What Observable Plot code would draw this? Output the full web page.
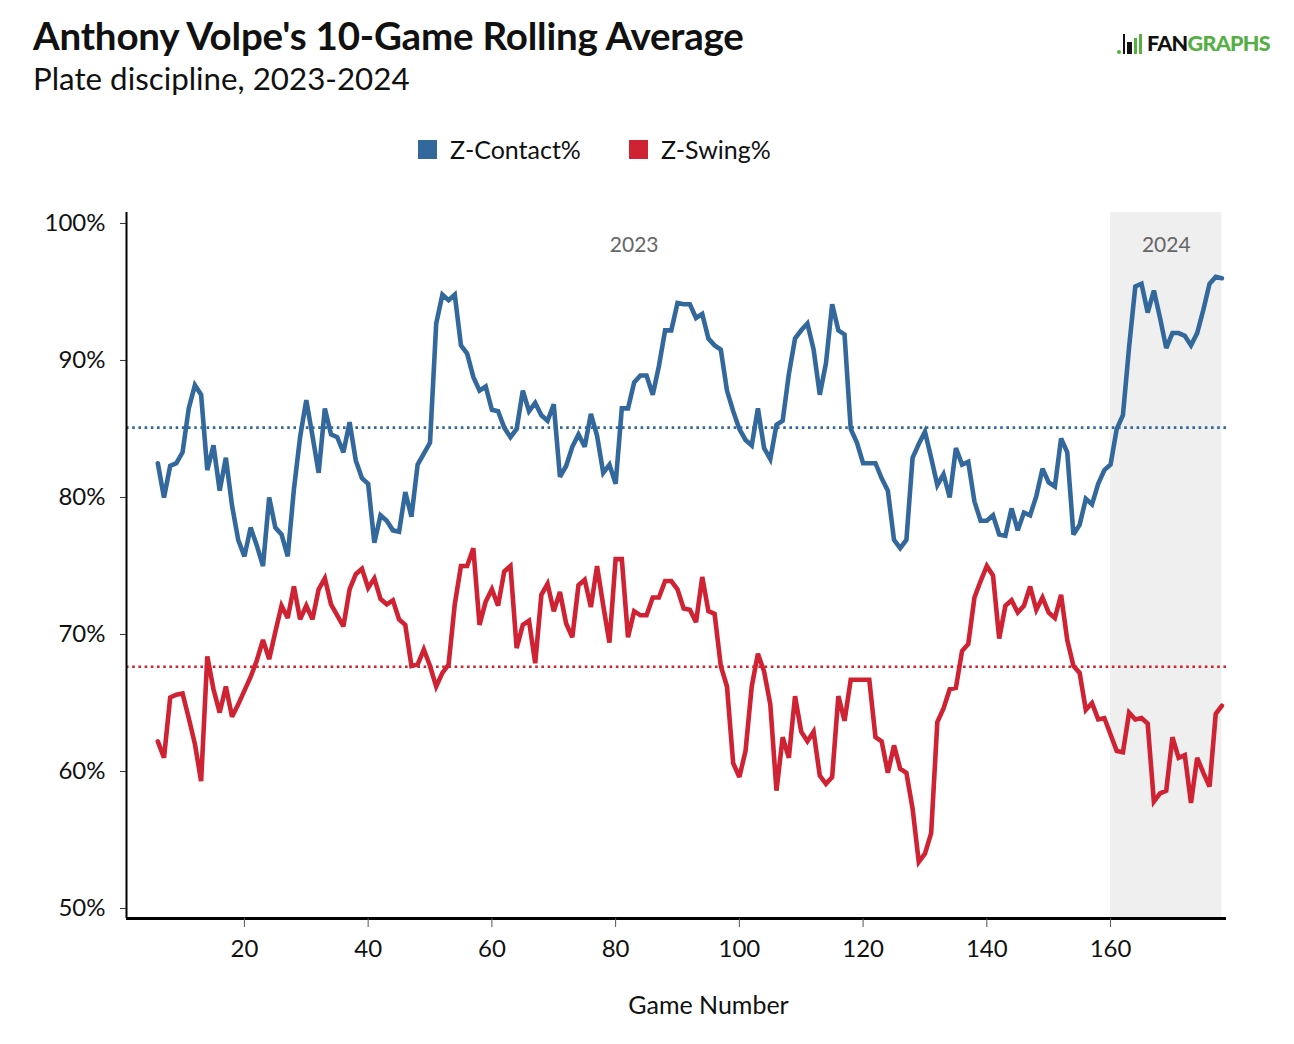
<!DOCTYPE html>
<html>
<head>
<meta charset="utf-8">
<script src="https://cdn.jsdelivr.net/npm/d3@7"></script>
<script src="https://cdn.jsdelivr.net/npm/@observablehq/plot@0.6"></script>
<style>
  html, body { margin: 0; padding: 0; background: #fff; }
  body { width: 1294px; height: 1044px; position: relative; font-family: Lato, "Open Sans", sans-serif; color: #111; overflow: hidden; }
  #title { position: absolute; left: 33px; top: 12px; font-size: 38.5px; font-weight: 700; letter-spacing: -0.2px; white-space: nowrap; }
  #subtitle { position: absolute; left: 33px; top: 59px; font-size: 31.3px; font-weight: 400; white-space: nowrap; }
  #legend { position: absolute; left: 418px; top: 134px; font-size: 25px; display: flex; align-items: center; white-space: nowrap; color: #111; }
  .sw { width: 19px; height: 19px; display: inline-block; margin-right: 13px; }
  .item { display: flex; align-items: center; margin-right: 48px; }
  #logo { position: absolute; left: 1117px; top: 32px; height: 22px; display: flex; align-items: flex-end; }
  #logo .txt { font-family: Lato, sans-serif; font-weight: 900; font-size: 21.5px; line-height: 21px; letter-spacing: -0.7px; margin-left: 3px; }
  #logo .fan { color: #111; }
  #logo .gr { color: #55af43; }
  .lb { display: inline-block; width: 3px; margin-right: 2px; }
  #chart { position: absolute; left: 0; top: 180px; }
</style>
</head>
<body>
<div id="title">Anthony Volpe's 10-Game Rolling Average</div>
<div id="subtitle">Plate discipline, 2023-2024</div>
<div id="legend"></div>
<div id="logo">
  <span class="lb" style="height:4px;background:#55af43;width:4px;border-radius:2px"></span>
  <span class="lb" style="height:20px;background:#111;width:2px"></span>
  <span class="lb" style="height:12px;background:#111;width:5px"></span>
  <span class="lb" style="height:16px;background:#55af43"></span>
  <span class="lb" style="height:20px;background:#55af43"></span>
  <span class="txt"><span class="fan">FAN</span><span class="gr">GRAPHS</span></span>
</div>
<div id="chart"></div>
<script>
// ---- data ----
const firstGame = 6;
const zContact = [
  82.5, 80.0, 82.3, 82.5, 83.3, 86.5, 88.2, 87.5, 82.0, 83.8,   // 6-15
  80.5, 82.9, 79.4, 76.9, 75.7, 77.8, 76.5, 75.0, 80.0, 77.8,   // 16-25
  77.3, 75.7, 80.6, 84.4, 87.1, 84.5, 81.8, 86.5, 84.6, 84.4,   // 26-35
  83.3, 85.5, 82.7, 81.4, 81.0, 76.7, 78.7, 78.3, 77.6, 77.5,   // 36-45
  80.4, 78.6, 82.4, 83.2, 84.0, 92.7, 94.8, 94.4, 94.8, 91.1,   // 46-55
  90.5, 88.8, 87.8, 88.1, 86.4, 86.3, 85.1, 84.4, 85.0, 87.8,   // 56-65
  86.3, 86.9, 86.0, 85.6, 86.8, 81.5, 82.3, 83.7, 84.6, 83.7,   // 66-75
  86.1, 84.5, 81.8, 82.4, 81.0, 86.5, 86.5, 88.4, 88.9, 88.9,   // 76-85
  87.5, 89.6, 92.2, 92.2, 94.2, 94.1, 94.1, 93.1, 93.4, 91.6,   // 86-95
  91.1, 90.8, 87.8, 86.3, 85.0, 84.2, 83.8, 86.5, 83.6, 82.8,   // 96-105
  85.3, 85.6, 89.0, 91.6, 92.2, 92.7, 90.8, 87.5, 89.8, 94.1,   // 106-115
  92.2, 91.9, 85.0, 84.0, 82.5, 82.5, 82.5, 81.4, 80.5, 76.9,   // 116-125
  76.3, 76.9, 82.9, 83.9, 84.8, 82.9, 80.9, 81.7, 80.0, 83.6,   // 126-135
  82.4, 82.6, 79.7, 78.3, 78.3, 78.7, 77.3, 77.2, 79.2, 77.6,   // 136-145
  78.9, 78.7, 80.1, 82.1, 81.1, 80.8, 84.3, 83.3, 77.3, 78.0,   // 146-155
  79.9, 79.5, 81.0, 82.0, 82.4, 85.0, 86.0, 91.0, 95.4, 95.6,   // 156-165
  93.5, 95.1, 93.1, 90.9, 92.0, 92.0, 91.8, 91.1, 92.0, 93.7,   // 166-175
  95.6, 96.1, 96.0                                              // 176-178
];
const zSwing = [
  62.2, 61.0, 65.4, 65.6, 65.7, 63.9, 62.0, 59.3, 68.4, 66.0,   // 6-15
  64.3, 66.2, 64.0, 64.9, 65.9, 66.9, 68.1, 69.6, 68.2, 70.2,   // 16-25
  72.1, 71.2, 73.5, 71.1, 72.1, 71.1, 73.3, 74.1, 72.2, 71.4,   // 26-35
  70.6, 73.3, 74.4, 74.8, 73.4, 74.1, 72.6, 72.2, 72.5, 71.1,   // 36-45
  70.7, 67.7, 67.8, 68.9, 67.7, 66.2, 67.2, 67.8, 72.2, 75.0,   // 46-55
  75.0, 76.3, 70.7, 72.4, 73.3, 72.1, 74.6, 75.0, 69.0, 70.7,   // 56-65
  71.0, 67.9, 72.9, 73.7, 71.7, 73.1, 70.8, 69.8, 73.6, 74.0,   // 66-75
  72.0, 75.0, 72.1, 69.4, 75.5, 75.5, 69.8, 71.7, 71.4, 71.4,   // 76-85
  72.7, 72.7, 73.9, 73.9, 73.3, 71.9, 71.8, 70.9, 74.2, 71.7,   // 86-95
  71.5, 67.7, 66.2, 60.6, 59.6, 61.5, 66.2, 68.6, 67.3, 64.9,   // 96-105
  58.6, 62.5, 61.0, 65.5, 62.9, 62.2, 62.9, 59.7, 59.1, 59.6,   // 106-115
  65.5, 63.7, 66.7, 66.7, 66.7, 66.7, 62.5, 62.2, 59.9, 61.9,   // 116-125
  60.2, 59.9, 57.3, 53.4, 54.0, 55.5, 63.6, 64.6, 66.0, 66.1,   // 126-135
  68.8, 69.3, 72.7, 73.9, 75.0, 74.3, 69.7, 72.1, 72.5, 71.6,   // 136-145
  72.1, 73.5, 71.8, 72.7, 71.6, 71.2, 72.9, 69.6, 67.7, 67.2,   // 146-155
  64.5, 65.0, 63.8, 63.9, 62.7, 61.5, 61.4, 64.3, 63.8, 63.9,   // 156-165
  63.5, 57.8, 58.4, 58.6, 62.5, 61.0, 61.2, 57.7, 61.0, 59.9,   // 166-175
  58.9, 64.2, 64.8                                              // 176-178
];
const seriesNames = ["Z-Contact%", "Z-Swing%"];
const seriesColors = ["#33689c", "#cf2232"];
const seasonAverages = [85.1, 67.65];
const seasons = ["2023", "2024"];
const seasonLabelGame = [83, 169];
const season2024Start = 160;
const season2024End = 178;
const xTicks = [20, 40, 60, 80, 100, 120, 140, 160];
const yTicks = [50, 60, 70, 80, 90, 100];
const xDomain = [0.94, 178.74];
const yDomain = [49.27, 100.8];

// ---- build tables ----
const rows = [];
[zContact, zSwing].forEach((arr, s) => {
  arr.forEach((v, i) => rows.push({game: firstGame + i, value: v, series: seriesNames[s]}));
});
const avgRows = seasonAverages.map((v, i) => ({value: v, series: seriesNames[i]}));
const seasonRows = seasons.map((s, i) => ({label: s, game: seasonLabelGame[i]}));

// ---- legend ----
const legend = document.getElementById("legend");
seriesNames.forEach((n, i) => {
  const it = document.createElement("div");
  it.className = "item";
  it.innerHTML = `<span class="sw" style="background:${seriesColors[i]}"></span><span>${n}</span>`;
  legend.appendChild(it);
});

// ---- chart ----
const chart = Plot.plot({
  width: 1294,
  height: 864,
  marginTop: 32,
  marginBottom: 126,
  marginLeft: 126,
  marginRight: 68,
  style: {fontFamily: "Lato, sans-serif", fontSize: "24px", color: "#111", background: "white", overflow: "visible"},
  x: {domain: xDomain},
  y: {domain: yDomain},
  color: {domain: seriesNames, range: seriesColors},
  marks: [
    Plot.rect([{x1: season2024Start, x2: season2024End}], {x1: "x1", x2: "x2", fill: "#efefef"}),
    Plot.ruleY(avgRows, {y: "value", stroke: "series", strokeWidth: 2.6, strokeDasharray: "2.6,3.6"}),
    Plot.lineY(rows, {x: "game", y: "value", z: "series", stroke: "series", strokeWidth: 4.6, strokeLinejoin: "miter", strokeMiterlimit: 3}),
    Plot.text(seasonRows, {x: "game", text: "label", frameAnchor: "top", dy: 25, fill: "#666", fontSize: 21}),
    Plot.ruleX([xDomain[0]], {stroke: "#000", strokeWidth: 2}),
    Plot.ruleY([yDomain[0]], {stroke: "#000", strokeWidth: 3.2}),
    Plot.axisX({ticks: xTicks, tickSize: 9, tickPadding: 12, label: null, stroke: "#555", fontSize: 24}),
    Plot.axisY({ticks: yTicks, tickFormat: d => d + "%", tickSize: 6, tickPadding: 15, label: null, stroke: "#333", fontSize: 24}),
    Plot.text(["Game Number"], {text: d => d, frameAnchor: "bottom", dx: 32, dy: 95, fontSize: 25, fill: "#111"})
  ]
});
document.getElementById("chart").appendChild(chart);
</script>
</body>
</html>
